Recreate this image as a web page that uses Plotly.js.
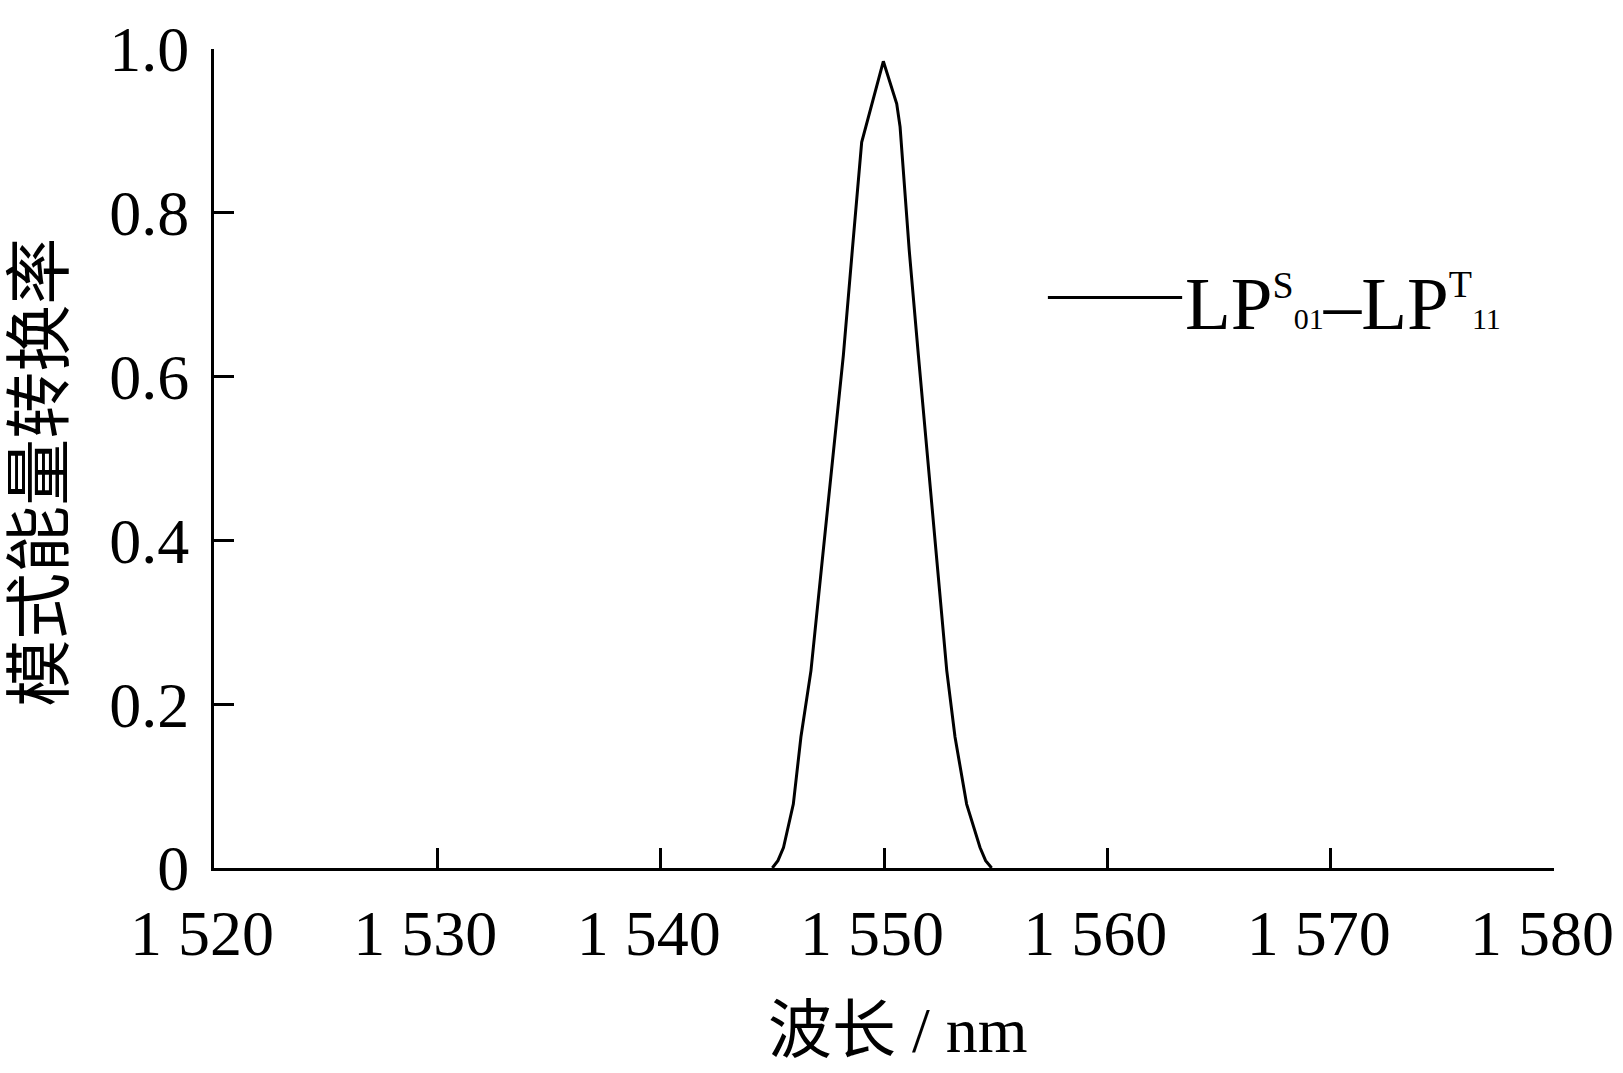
<!DOCTYPE html>
<html>
<head>
<meta charset="utf-8">
<script src="https://cdn.plot.ly/plotly-3.0.1.min.js"></script>
<style>html,body{margin:0;padding:0;background:#fff;}#chart{width:1623px;height:1073px;}</style>
</head>
<body>
<div id="chart"></div>
<script>
// Wavelength (nm) and mode energy conversion efficiency
const wavelength = [1545.0, 1545.25, 1545.5, 1545.94, 1546.28, 1546.73, 1547.21, 1547.70, 1548.18, 1548.58, 1549.0, 1549.97, 1550.57, 1550.72, 1551.13, 1551.54, 1551.96, 1552.36, 1552.81, 1553.18, 1553.70, 1554.30, 1554.55, 1554.82];
const efficiency = [0, 0.009, 0.025, 0.078, 0.160, 0.241, 0.369, 0.497, 0.626, 0.754, 0.886, 0.985, 0.933, 0.905, 0.754, 0.626, 0.497, 0.369, 0.241, 0.160, 0.078, 0.025, 0.009, 0];

const xTickVals = [1520, 1530, 1540, 1550, 1560, 1570, 1580];
const xTickText = ['1 520', '1 530', '1 540', '1 550', '1 560', '1 570', '1 580'];
const yTickVals = [0, 0.2, 0.4, 0.6, 0.8, 1.0];
const yTickText = ['0', '0.2', '0.4', '0.6', '0.8', '1.0'];

const xTitle = '波长 / nm';
const yTitle = '模式能量转换率';
const seriesLabel = 'LP<sup><span style="font-size:38px">S</span></sup><span style="font-size:30px">01</span>–LP<sup><span style="font-size:38px">T</span></sup><span style="font-size:30px">11</span>';

const FONT = 'Liberation Serif, "Times New Roman", "Noto Sans CJK SC", serif';

const trace = {
  x: wavelength,
  y: efficiency,
  type: 'scatter',
  mode: 'lines',
  line: {color: '#000', width: 3, shape: 'linear'},
  cliponaxis: false,
  showlegend: false,
  hoverinfo: 'skip'
};

const axisCommon = {
  showline: true, linecolor: '#000', linewidth: 3,
  ticks: 'inside', ticklen: 20, tickwidth: 3, tickcolor: '#000',
  showgrid: false, zeroline: false, mirror: false,
  tickfont: {family: FONT, size: 64, color: '#000'},
  ticklabeloverflow: 'allow',
  fixedrange: true
};

const layout = {
  width: 1623, height: 1073,
  margin: {l: 214, r: 69, t: 49, b: 205, pad: 0},
  paper_bgcolor: '#fff', plot_bgcolor: '#fff',
  font: {family: FONT, color: '#000'},
  xaxis: Object.assign({}, axisCommon, {
    range: [1520, 1580], tickmode: 'array', tickvals: xTickVals, ticktext: xTickText,
    ticklabelstandoff: 7, ticklabelshift: -12
  }),
  yaxis: Object.assign({}, axisCommon, {
    range: [0, 1.0], tickmode: 'array', tickvals: yTickVals, ticktext: yTickText,
    ticklabelstandoff: 9, ticklabelshift: 0
  }),
  shapes: [
    {type: 'line', xref: 'paper', yref: 'paper', x0: 0.6223, x1: 0.7225, y0: 0.6967, y1: 0.6967,
     line: {color: '#000', width: 3}}
  ],
  annotations: [
    {xref: 'paper', yref: 'paper', x: 0.7235, y: 0.6897, xanchor: 'left', yanchor: 'middle',
     text: seriesLabel, showarrow: false, font: {family: FONT, size: 75, color: '#000'}},
    {xref: 'paper', yref: 'paper', x: 0.5104, y: -0.198, xanchor: 'center', yanchor: 'middle',
     text: xTitle, showarrow: false, font: {family: FONT, size: 64, color: '#000'}},
    {xref: 'paper', yref: 'paper', x: -0.13, y: 0.4835, xanchor: 'center', yanchor: 'middle',
     text: yTitle, textangle: -90, showarrow: false, font: {family: FONT, size: 67, color: '#000'}}
  ]
};

Plotly.newPlot('chart', [trace], layout, {displayModeBar: false, staticPlot: true});
</script>
</body>
</html>
